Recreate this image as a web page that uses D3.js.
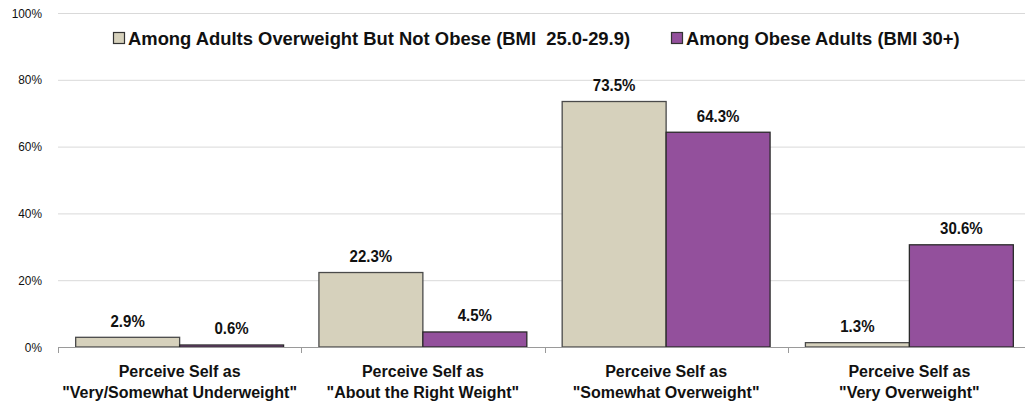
<!DOCTYPE html>
<html>
<head>
<meta charset="utf-8">
<script src="https://cdn.jsdelivr.net/npm/d3@7"></script>
<style>
  html, body { margin: 0; padding: 0; background: #fff; }
  svg { display: block; font-family: "Liberation Sans", Arial, sans-serif; }
</style>
</head>
<body>
<svg id="chart" width="1025" height="406"></svg>
<script>
const categoriesLine1 = ["Perceive Self as", "Perceive Self as", "Perceive Self as", "Perceive Self as"];
const categoriesLine2 = ["\"Very/Somewhat Underweight\"", "\"About the Right Weight\"", "\"Somewhat Overweight\"", "\"Very Overweight\""];
const seriesNames = ["Among Adults Overweight But Not Obese (BMI  25.0-29.9)", "Among Obese Adults (BMI 30+)"];
const overweightValues = [2.9, 22.3, 73.5, 1.3];
const obeseValues = [0.6, 4.5, 64.3, 30.6];
const yTicks = [0, 20, 40, 60, 80, 100];
const seriesColors = ["#D6D1BC", "#93509C"];

const svg = d3.select("#chart");
const categories = categoriesLine2.map((d, i) => i);
const x = d3.scaleBand().domain(categories).range([58, 1031]).paddingInner(0).paddingOuter(0);
const y = d3.scaleLinear().domain([0, 100]).range([347, 13]);
const xs = d3.scaleBand().domain([0, 1]).range([0, x.bandwidth()]).paddingOuter(0.17).paddingInner(0);

// gridlines
svg.append("g").selectAll("line").data(yTicks.filter(t => t > 0)).join("line")
  .attr("x1", 58).attr("x2", 1025)
  .attr("y1", d => y(d) + 0.5).attr("y2", d => y(d) + 0.5)
  .attr("stroke", "#D9D9D9").attr("stroke-width", 1);

// y tick labels
svg.append("g").selectAll("text").data(yTicks).join("text")
  .attr("transform", d => `translate(42,${y(d) + 4.5}) scale(0.95,1)`)
  .attr("text-anchor", "end")
  .attr("font-size", 12.5).attr("fill", "#111")
  .text(d => d + "%");

// bars
const series = [overweightValues, obeseValues];
const barsG = svg.append("g");
series.forEach((vals, si) => {
  barsG.selectAll(null).data(vals).join("rect")
    .attr("x", (d, i) => x(i) + xs(si))
    .attr("y", d => y(d))
    .attr("width", xs.bandwidth())
    .attr("height", d => y(0) - y(d))
    .attr("fill", seriesColors[si])
    .attr("stroke", si === 0 ? "#4a4a4a" : "#2a2a2a")
    .attr("stroke-width", 1.3);
});

// x axis line and ticks
const axisG = svg.append("g");
axisG.append("line").attr("x1", 58).attr("x2", 1025).attr("y1", y(0) + 0.5).attr("y2", y(0) + 0.5)
  .attr("stroke", "#9a9a9a").attr("stroke-width", 1);
axisG.selectAll("line.tk").data([0, 1, 2, 3]).join("line").attr("class", "tk")
  .attr("x1", d => Math.round(x(d)) + 0.5).attr("x2", d => Math.round(x(d)) + 0.5)
  .attr("y1", y(0)).attr("y2", y(0) + 6)
  .attr("stroke", "#9a9a9a");

// value labels
series.forEach((vals, si) => {
  svg.append("g").selectAll("text").data(vals).join("text")
    .attr("transform", (d, i) => `translate(${x(i) + xs(si) + xs.bandwidth() / 2},${y(d) - 10.5}) scale(0.94,1)`)
    .attr("text-anchor", "middle")
    .attr("font-size", 16).attr("font-weight", "bold").attr("fill", "#111")
    .text(d => d.toFixed(1) + "%");
});

// category labels
const catG = svg.append("g");
categories.forEach(i => {
  const cx = x(i) + x.bandwidth() / 2;
  catG.append("text").attr("transform", `translate(${cx},377)`)
    .attr("text-anchor", "middle").attr("font-size", 16).attr("font-weight", "bold").attr("fill", "#111")
    .text(categoriesLine1[i]);
  catG.append("text").attr("transform", `translate(${cx},398)`)
    .attr("text-anchor", "middle").attr("font-size", 16).attr("font-weight", "bold").attr("fill", "#111")
    .text(categoriesLine2[i]);
});

// legend
const legendX = [113, 671];
const legendG = svg.append("g");
seriesNames.forEach((name, si) => {
  legendG.append("rect").attr("x", legendX[si] + 0.5).attr("y", 32.5).attr("width", 11).attr("height", 11)
    .attr("fill", seriesColors[si]).attr("stroke", "#333").attr("stroke-width", 1.2);
  legendG.append("text").attr("transform", `translate(${legendX[si] + 15},44.5)`)
    .attr("font-size", 18.4).attr("font-weight", "bold").attr("fill", "#111")
    .attr("xml:space", "preserve").style("white-space", "pre")
    .text(name);
});
</script>
</body>
</html>
